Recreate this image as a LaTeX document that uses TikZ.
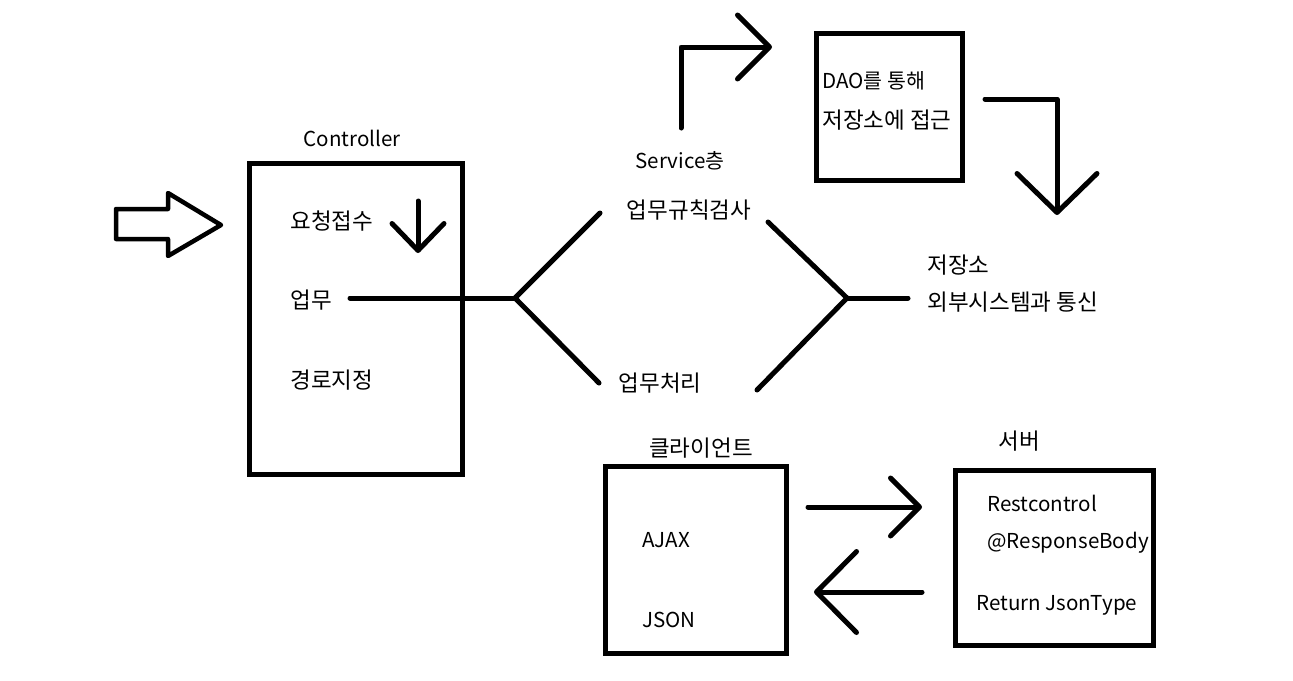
\documentclass[tikz,border=0pt]{standalone}
\usepackage{fontspec}
\setmainfont{Noto Sans CJK KR}
\usetikzlibrary{arrows.meta}

\tikzset{
  box/.style 2 args={draw, line width=1mm, minimum width=#1, minimum height=#2},
  lbl/.style={inner sep=0pt, anchor=west},
  clbl/.style={inner sep=0pt},
  ko/.style={font=\fontsize{12.8}{15}\selectfont},
  wire/.style={line width=1mm, line cap=round, line join=round},
  barb/.style 2 args={wire, -{Straight Barb[length=#1, width=#2, round]}},
}

\begin{document}
\begin{tikzpicture}[x=0.02cm, y=-0.02cm, font=\fontsize{11.7}{14}\selectfont]
  \useasboundingbox (0,0) rectangle (1293,680);

  \draw[line width=0.9mm, line join=round] (116,209) -- (168,209) -- (168,193) -- (221,225)
    -- (168,256) -- (168,239) -- (116,239) -- cycle;

  \node[box={4.26cm}{6.22cm}] (ctrlbox) at (356,319) {};
  \node[clbl] (ctrltitle) at (352,138) {Controller};
  \node[lbl, ko] (req) at (290,221) {요청접수};
  \node[lbl, ko] (upmu) at (290,300) {업무};
  \node[lbl, ko] (route) at (290,380) {경로지정};

  \node[clbl] (service) at (680,161) {Service층};
  \node[clbl, ko] (rule) at (689,210) {업무규칙검사};
  \node[clbl, ko] (proc) at (660,383) {업무처리};

  \node[box={2.92cm}{2.96cm}] (daobox) at (889,107) {};
  \node[lbl] (dao1) at (822,81) {DAO를 통해};
  \node[lbl, ko] (dao2) at (822,120) {저장소에 접근};

  \node[lbl, ko] (store1) at (927,265) {저장소};
  \node[lbl, ko] (store2) at (927,302) {외부시스템과 통신};

  \node[box={3.64cm}{3.74cm}] (clientbox) at (696,560) {};
  \node[clbl, ko] (clienttitle) at (701,448) {클라이언트};
  \node[lbl] (ajax) at (642,540) {AJAX};
  \node[lbl] (json) at (642,620) {JSON};

  \node[box={3.96cm}{3.52cm}] (serverbox) at (1054,558) {};
  \node[clbl, ko] (servertitle) at (1019,441) {서버};
  \node[lbl] (rest) at (987,503) {Restcontrol};
  \node[lbl] (resp) at (987,543) {@ResponseBody};
  \node[lbl] (ret) at (976,605) {Return JsonType};

  \coordinate (reqtop) at (418,201);
  \coordinate (reqdown) at (418,253);
  \coordinate (upmuend) at (350,298);
  \coordinate (split) at (515,298);
  \coordinate (ruleL) at (600,213);
  \coordinate (procL) at (599,383);
  \coordinate (ruleR) at (768,222);
  \coordinate (procR) at (757,390);
  \coordinate (join) at (847,298);
  \coordinate (storeL) at (908,298);
  \coordinate (svcup) at (681,128);
  \coordinate (daoin) at (772,47);
  \coordinate (daoout) at (985,99);
  \coordinate (storedown) at (1057,215);
  \coordinate (reqout) at (808,507);
  \coordinate (srvin) at (922,507);
  \coordinate (resout) at (922,592);
  \coordinate (cliin) at (814,592);

  \draw[barb={0.54cm}{1.04cm}] (reqtop) -- (reqdown);
  \draw[wire] (upmuend) -- (split);
  \draw[wire] (ruleL) -- (split) -- (procL);
  \draw[wire] (ruleR) -- (join) -- (procR);
  \draw[wire] (join) -- (storeL);
  \draw[barb={0.64cm}{1.28cm}] (svcup) |- (daoin);
  \draw[barb={0.78cm}{1.6cm}] (daoout) -| (storedown);
  \draw[barb={0.58cm}{1.16cm}] (reqout) -- (srvin);
  \draw[barb={0.8cm}{1.62cm}] (resout) -- (cliin);
\end{tikzpicture}
\end{document}
